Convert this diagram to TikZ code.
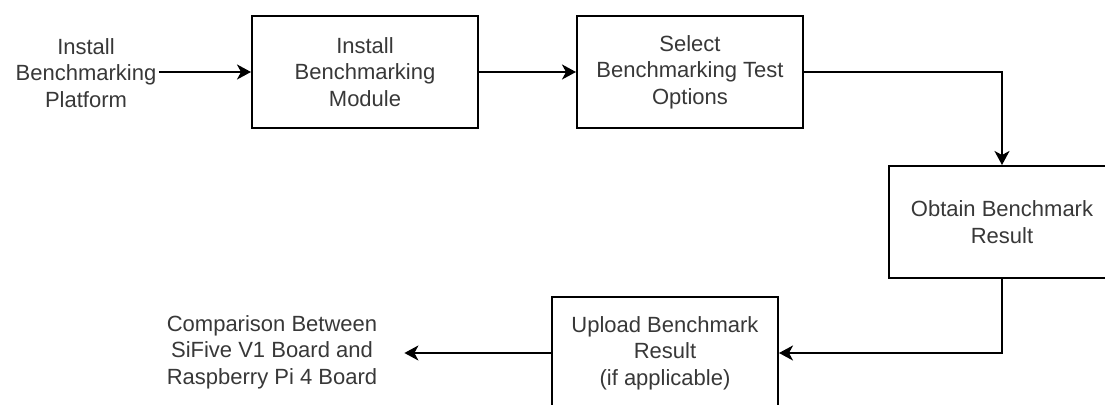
\documentclass[tikz,border=0pt]{standalone}
\usepackage{fontspec}
\setmainfont{Liberation Sans}
\usetikzlibrary{arrows.meta}

\tikzset{
  txt/.style={font=\fontsize{11pt}{13.25pt}\selectfont, text=black!78, align=center},
  proc/.style={txt, draw=black, line width=1pt, minimum width=113pt, minimum height=56pt, inner sep=0pt},
  lbl/.style={txt, inner sep=0pt},
  flow/.style={draw=black, line width=1pt, -{Stealth[length=7pt, width=7.5pt, inset=2pt]}}
}

\begin{document}
\begin{tikzpicture}[x=0.5pt, y=-0.5pt]
  \clip (0,0) rectangle (1105,405);
  \fill[white] (0,0) rectangle (1105,405);

  % process steps
  \node[lbl, minimum width=72.5pt] (start) at (86,73) {Install\\Benchmarking\\Platform};
  \node[proc] (module)  at (365,72)  {Install\\Benchmarking\\Module};
  \node[proc] (options) at (690,72)  {Select\\Benchmarking Test\\Options};
  \node[proc] (obtain)  at (1002,222) {Obtain Benchmark\\Result};
  \node[proc] (upload)  at (665,353) {Upload Benchmark\\Result\\(if applicable)};
  \node[lbl, minimum width=132pt] (compare) at (272,352) {Comparison Between\\SiFive V1 Board and\\Raspberry Pi 4 Board};

  % connectors
  \draw[flow] (start.east |- module.west) -- (module.west);
  \draw[flow] (module.east) -- (options.west);
  \draw[flow] (options.east) -| (obtain.north);
  \draw[flow] (obtain.south) |- (upload.east);
  \draw[flow] (upload.west) -- (compare.east |- upload.west);
\end{tikzpicture}
\end{document}
